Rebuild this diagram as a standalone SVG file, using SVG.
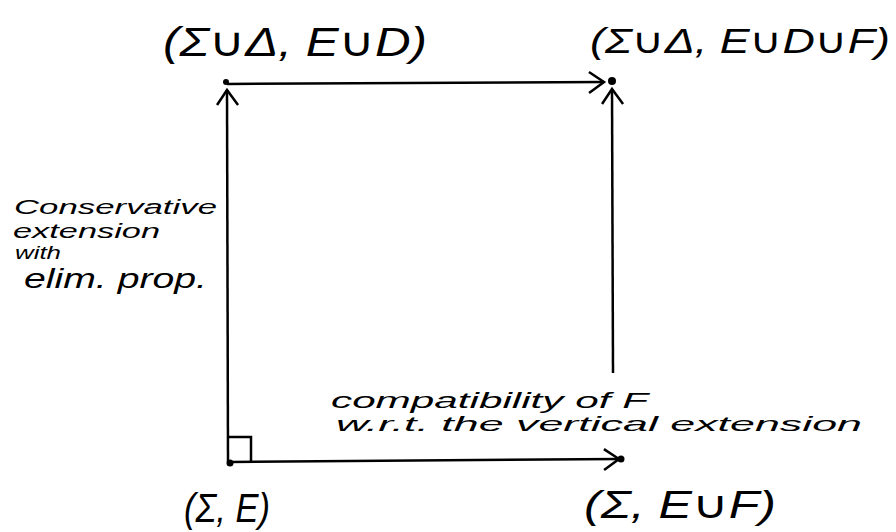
<svg xmlns="http://www.w3.org/2000/svg" width="896" height="532" viewBox="0 0 896 532">
<style>
.t{font-family:"Liberation Sans","DejaVu Sans",sans-serif;font-style:italic;fill:#000}
.ln{stroke:#000;stroke-width:2.5;fill:none}
.dot{fill:#000}
</style>
<defs>
<marker id="ah" markerUnits="userSpaceOnUse" markerWidth="24" markerHeight="26" refX="17" refY="12" orient="auto">
<path d="M2,2 L17,12 L2,23" fill="none" stroke="#000" stroke-width="2.5"/>
</marker>
</defs>
<rect width="896" height="532" fill="#fff"/>
<g id="connectors">
<line class="ln" x1="228" y1="462" x2="227" y2="90" marker-end="url(#ah)"/>
<line class="ln" x1="227" y1="84" x2="604" y2="82" marker-end="url(#ah)"/>
<line class="ln" x1="613" y1="373" x2="612" y2="89" marker-end="url(#ah)"/>
<line class="ln" x1="230" y1="462" x2="619" y2="459" marker-end="url(#ah)"/>
<path class="ln" d="M229,437 L251,437 L251,462"/>
</g>
<g id="n-bl">
<circle class="dot" cx="230" cy="463" r="3.5"/>
<text class="t" x="184" y="522" font-size="40" textLength="86" lengthAdjust="spacingAndGlyphs">(Σ, E)</text>
</g>
<g id="n-tl">
<circle class="dot" cx="226" cy="82" r="3"/>
<text class="t" x="163" y="56" font-size="40" textLength="264" lengthAdjust="spacingAndGlyphs">(Σ∪Δ, E∪D)</text>
</g>
<g id="n-tr">
<circle class="dot" cx="612" cy="81" r="4"/>
<text class="t" x="590" y="53" font-size="35" textLength="300" lengthAdjust="spacingAndGlyphs">(Σ∪Δ, E∪D∪F)</text>
</g>
<g id="n-br">
<circle class="dot" cx="621" cy="459" r="3.5"/>
<text class="t" x="584" y="518" font-size="38" textLength="192" lengthAdjust="spacingAndGlyphs">(Σ, E∪F)</text>
</g>
<g id="label-left">
<text class="t" x="14" y="214" font-size="20" textLength="203" lengthAdjust="spacingAndGlyphs">Conservative</text>
<text class="t" x="13" y="238" font-size="20" textLength="147" lengthAdjust="spacingAndGlyphs">extension</text>
<text class="t" x="15" y="259" font-size="19" textLength="46" lengthAdjust="spacingAndGlyphs">with</text>
<text class="t" x="24" y="288" font-size="27" textLength="183" lengthAdjust="spacingAndGlyphs">elim. prop.</text>
</g>
<g id="label-bottom">
<text class="t" x="331" y="408" font-size="22" textLength="317" lengthAdjust="spacingAndGlyphs">compatibility of F</text>
<text class="t" x="336" y="431" font-size="21" textLength="526" lengthAdjust="spacingAndGlyphs">w.r.t. the vertical extension</text>
</g>
</svg>
